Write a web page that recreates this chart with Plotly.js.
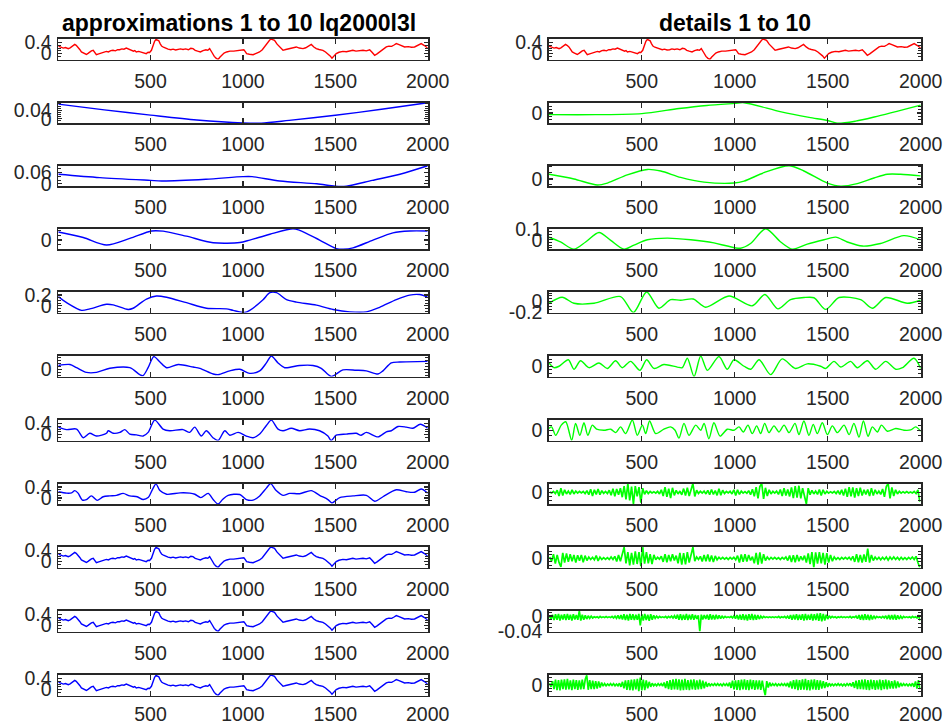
<!DOCTYPE html>
<html><head><meta charset="utf-8">
<script src="https://cdn.plot.ly/plotly-3.0.1.min.js"></script>
<style>html,body{margin:0;padding:0;background:#fff}#chart{width:948px;height:725px}</style>
</head><body><div id="chart"></div>
<script>
// ---------- data ----------
const titleLeft = 'approximations 1 to 10 lq2000l3l';
const titleRight = 'details 1 to 10';
const xTickVals = [500, 1000, 1500, 2000];
const xTickText = ['500', '1000', '1500', '2000'];

// original signal (also shown as a1, a2, a3 which are visually identical)
const sigX = [1,12,28,40,55,65,73,82,90,98,
108,117,126,138,153,162,171,180,190,198,
207,220,234,248,261,272,285,297,310,322,
333,345,356,369,382,396,408,415,423,436,
450,463,477,487,495,505,515,522,530,537,
545,552,560,570,580,595,610,622,636,650,
662,676,690,705,718,730,742,755,770,784,
800,810,820,832,845,856,866,875,885,898,
912,930,950,965,985,1005,1012,1020,1035,1055,
1072,1090,1105,1117,1127,1135,1145,1153,1162,1171,
1185,1199,1210,1217,1232,1253,1268,1289,1305,1325,
1340,1355,1370,1384,1397,1412,1433,1447,1460,1472,
1482,1492,1505,1520,1541,1560,1577,1595,1612,1630,
1650,1668,1686,1700,1713,1726,1740,1758,1776,1790,
1805,1818,1830,1845,1860,1875,1895,1912,1929,1945,
1965,1980,1990,2000];
const sigY = [0.27,0.24,0.20,0.22,0.18,0.21,0.24,0.29,0.33,0.30,
0.24,0.15,0.06,0.02,-0.03,0.01,0.06,0.10,0.12,0.05,
-0.04,-0.01,0.02,0.06,0.08,0.06,0.11,0.12,0.10,0.14,
0.14,0.17,0.16,0.20,0.16,0.12,0.09,0.11,0.06,0.08,
0.06,0.03,0.00,0.05,0.04,0.12,0.36,0.44,0.51,0.48,
0.46,0.36,0.27,0.23,0.20,0.16,0.14,0.16,0.13,0.14,
0.17,0.15,0.17,0.14,0.19,0.18,0.12,0.09,0.06,0.11,
0.14,0.12,0.18,0.05,-0.10,-0.17,-0.21,-0.13,-0.06,0.02,
0.06,0.09,0.09,0.11,0.12,0.14,0.08,0.00,-0.02,-0.04,
0.01,0.06,0.14,0.24,0.34,0.42,0.49,0.52,0.50,0.48,
0.34,0.24,0.16,0.12,0.15,0.18,0.22,0.24,0.20,0.18,
0.21,0.26,0.33,0.24,0.18,0.15,0.12,0.06,0.00,-0.08,
-0.16,-0.08,0.00,0.05,0.08,0.07,0.10,0.12,0.09,0.11,
0.12,0.10,0.14,0.04,-0.06,-0.01,0.06,0.15,0.24,0.27,
0.26,0.31,0.36,0.32,0.28,0.24,0.25,0.23,0.24,0.30,
0.36,0.30,0.26,0.20];

// approximations
const a4X = [1,46,73,90,108,131,153,180,211,244,280,316,352,388,428,460,487,515,530,551,587,660,713,740,772,812,839,866,890,920,983,1019,1055,1091,1127,1150,1180,1217,1253,1307,1370,1415,1460,1482,1524,1596,1668,1713,1758,1830,1884,1929,1965,2000];
const a4Y = [0.23,0.18,0.19,0.27,0.18,-0.07,-0.05,0.08,-0.08,0.05,0.08,0.10,0.17,0.08,0.05,-0.05,0.02,0.37,0.51,0.27,0.14,0.19,0.18,0.14,0.02,0.17,-0.05,-0.21,-0.05,0.10,0.13,-0.05,-0.07,0.08,0.36,0.52,0.27,0.10,0.17,0.16,0.27,0.10,-0.05,-0.17,0.02,0.08,0.10,-0.11,0.05,0.30,0.23,0.21,0.33,0.18];
const a5X = [1,46,100,136,171,207,262,271,298,334,361,388,424,460,487,523,568,604,676,712,739,775,802,838,866,902,929,974,1019,1055,1091,1127,1154,1190,1217,1262,1307,1361,1415,1460,1478,1505,1559,1613,1640,1668,1731,1776,1803,1839,1884,1920,1960,2000];
const a5Y = [0.27,0.18,0.20,-0.11,0.05,-0.05,0.05,0.14,0.05,0.08,0.18,0.02,-0.01,-0.05,0.08,0.52,0.20,0.14,0.18,0.08,0.27,-0.05,0.14,-0.11,-0.21,0.14,-0.02,0.08,-0.05,-0.11,0.02,0.33,0.52,0.20,0.14,0.23,0.14,0.20,0.14,-0.05,-0.21,-0.02,0.02,0.05,-0.02,0.08,-0.08,0.10,0.14,0.29,0.27,0.23,0.37,0.23];
const a6X = [1,64,100,153,208,280,388,442,460,487,518,551,587,650,731,767,839,866,929,983,1037,1091,1127,1154,1190,1226,1307,1379,1424,1478,1541,1613,1668,1731,1758,1803,1848,2000];
const a6Y = [0.063,0.079,0.026,-0.052,-0.052,0.016,0.026,-0.089,-0.104,0.026,0.21,0.12,0.026,0.079,0.037,0.016,-0.079,-0.089,-0.026,0,-0.068,-0.026,0.105,0.22,0.105,0.026,0.063,0.063,0.016,-0.12,-0.011,-0.016,-0.026,-0.079,-0.026,0.105,0.12,0.131];
const a7X = [1,46,127,172,262,298,379,406,478,532,587,695,803,911,947,1010,1037,1109,1146,1182,1236,1290,1398,1488,1578,1668,1740,1830,1902,1956,2000];
const a7Y = [0.172,0.057,-0.087,-0.058,0.027,0.017,-0.07,-0.047,0.126,0.183,0.16,0.057,-0.047,-0.058,-0.087,-0.127,-0.087,0.114,0.245,0.245,0.114,0.068,0.011,-0.07,-0.115,-0.115,-0.029,0.114,0.2,0.21,0.16];
const a8X = [1,136,262,388,506,568,694,839,983,1037,1146,1271,1307,1415,1506,1542,1596,1704,1812,1902,2000];
const a8Y = [0.089,0.028,-0.054,0.018,0.1,0.098,0.043,-0.029,-0.027,0,0.064,0.125,0.107,0,-0.093,-0.1,-0.086,0,0.079,0.1,0.1];
const a9X = [1,226,500,560,800,1000,1050,1200,1400,1500,1560,1700,1850,2000];
const a9Y = [0.051,0.033,0.018,0.015,0.024,0.038,0.038,0.015,0.0,-0.0128,-0.0125,0.018,0.051,0.096];
const a10X = [1,250,500,750,1000,1100,1250,1500,1750,2000];
const a10Y = [0.069,0.042,0.017,-0.006,-0.020,-0.021,-0.008,0.016,0.045,0.076];

// details (smooth levels)
const d10X = [1,250,500,700,850,1000,1050,1250,1400,1500,1550,1650,1750,2000];
const d10Y = [-0.005,-0.005,-0.002,0.013,0.022,0.028,0.030,0.003,-0.013,-0.022,-0.030,-0.024,-0.012,0.023];
const d9X = [1,135,261,315,422,530,602,709,835,996,1050,1157,1292,1372,1498,1570,1659,1749,1820,1892,2000];
const d9Y = [0.039,0,-0.05,-0.034,0.034,0.079,0.066,0.013,-0.026,-0.034,-0.018,0.052,0.11,0.066,-0.034,-0.06,-0.039,0.008,0.039,0.039,0.026];
const d8X = [1,63,135,198,270,333,404,458,530,637,763,888,960,1031,1085,1166,1247,1310,1390,1480,1543,1605,1686,1784,1909,2000];
const d8Y = [0.025,-0.021,-0.09,-0.021,0.07,-0.006,-0.09,-0.051,0,0.016,0,-0.03,-0.06,-0.081,-0.036,0.106,-0.021,-0.09,-0.042,0,0.025,-0.021,-0.06,-0.036,0.04,0];
const d7X = [1,72,135,243,386,455,526,592,655,709,777,843,969,1094,1162,1232,1300,1372,1426,1489,1561,1677,1740,1812,1928,2000];
const d7Y = [-0.039,0.075,-0.039,-0.039,0.087,-0.212,0.173,-0.131,0.029,0.018,0.041,-0.114,0.098,-0.086,0.127,-0.143,0.029,0.069,0.065,-0.154,0.069,0.029,-0.131,0.069,-0.039,0.018];
const d6X = [1,28,55,105,135,171,216,270,315,359,395,440,490,526,566,619,691,718,745,781,817,853,915,960,996,1050,1086,1131,1193,1255,1327,1390,1462,1489,1534,1570,1623,1659,1713,1758,1812,1866,1902,1964,2000];
const d6Y = [0.048,-0.021,0,0.095,-0.044,0.081,-0.021,0.048,-0.032,0.081,-0.021,0.072,-0.06,0.095,-0.032,0.026,-0.012,-0.021,0.118,-0.15,0.15,-0.06,0.141,-0.044,0.095,0,-0.044,0.095,-0.123,0.108,-0.032,0.035,0,-0.032,0.072,-0.012,0.072,-0.021,0.081,-0.044,0.072,-0.044,-0.021,0.118,-0.032];
const d5X = [1,15,37,67,91,123,144,167,189,210,234,257,297,333,360,386,413,449,476,503,521,542,575,619,655,679,700,727,754,790,817,835,861,888,921,960,996,1023,1046,1071,1094,1118,1139,1161,1184,1211,1238,1265,1292,1324,1345,1372,1399,1422,1444,1471,1498,1525,1552,1588,1615,1641,1668,1692,1717,1740,1767,1789,1821,1866,1910,1946,1973,2000];
const d5Y = [0.017,0.033,-0.05,0.05,0.083,-0.097,0.067,-0.05,0.073,-0.05,0.05,0.01,0,0.01,-0.023,0.033,-0.033,0.1,-0.05,0.05,-0.033,0.09,-0.033,0.01,0.033,0,-0.077,0.067,-0.05,0.05,0,0.067,-0.083,0.073,-0.057,0.01,0,0.033,-0.017,0.05,-0.033,0.043,-0.033,0.067,-0.023,0.043,-0.017,0.05,-0.023,0.067,-0.043,0.09,-0.05,0.057,-0.033,0.073,-0.043,0.043,-0.023,0.05,-0.043,0.067,-0.067,0.09,-0.06,0.033,-0.017,0.05,-0.01,0.017,0,0.003,0.033,-0.01];

// details (fine levels), evenly sampled
const d4Y = [0.002,-0.003,0.004,-0.006,0.010,-0.018,0.020,-0.016,0.012,-0.008,
0.006,-0.010,0.012,-0.008,0.006,-0.004,0.005,-0.003,0.004,-0.006,
0.008,-0.012,0.015,-0.018,0.012,-0.010,0.016,-0.012,0.008,-0.005,
0.004,-0.006,0.010,-0.014,0.018,-0.020,0.016,-0.012,0.020,-0.024,
0.030,-0.035,0.043,-0.040,0.028,-0.057,0.030,-0.020,0.025,-0.050,
0.020,-0.010,0.008,-0.006,0.004,-0.003,0.003,-0.004,0.005,-0.008,
0.012,-0.018,0.025,-0.022,0.018,-0.028,0.022,-0.015,0.010,-0.008,
0.006,-0.012,0.018,-0.016,0.022,-0.018,0.012,0.043,-0.020,0.010,
-0.006,0.005,-0.004,0.006,-0.008,0.010,-0.012,0.014,-0.010,0.008,
-0.015,0.018,-0.014,0.010,-0.006,0.004,-0.003,0.005,-0.008,0.012,
-0.015,0.012,-0.010,0.006,-0.004,0.003,-0.005,0.008,-0.012,0.015,
-0.020,0.025,-0.030,0.028,0.043,-0.032,0.022,-0.018,0.012,-0.008,
0.005,-0.004,0.006,-0.010,0.014,-0.018,0.020,-0.016,0.014,-0.020,
0.024,-0.028,0.030,-0.026,0.032,-0.030,0.020,-0.025,-0.057,0.020,
-0.012,0.010,-0.008,0.006,-0.010,0.014,-0.016,0.012,-0.008,0.005,
-0.004,0.003,-0.003,0.004,-0.006,0.008,-0.010,0.012,-0.016,0.018,
-0.022,0.025,-0.020,0.024,-0.026,0.020,-0.018,0.022,-0.016,0.012,
-0.010,0.014,-0.018,0.020,-0.016,0.012,-0.008,0.006,-0.010,0.016,
-0.022,0.028,0.043,-0.030,0.024,-0.018,0.012,-0.008,0.005,-0.004,
0.003,-0.003,0.004,-0.003,0.002,-0.003,0.004,-0.006,0.012,-0.045];
const d3Y = [0.004,-0.008,0.012,-0.015,0.010,-0.012,-0.024,0.016,-0.012,0.014,
-0.010,0.012,-0.008,0.010,-0.012,0.009,-0.007,0.010,-0.011,0.008,
-0.006,0.004,-0.003,0.003,-0.004,0.008,-0.007,0.004,-0.003,0.002,
-0.003,0.002,-0.003,0.004,-0.003,0.006,-0.009,0.010,-0.008,0.011,
0.032,-0.014,0.018,-0.020,0.016,-0.018,0.020,-0.016,0.018,-0.022,
0.032,-0.015,0.018,-0.014,0.012,-0.016,0.010,-0.004,0.003,-0.002,
0.006,-0.010,0.012,-0.011,0.010,-0.008,0.012,-0.006,0.008,-0.014,
0.016,-0.018,0.015,-0.017,0.018,-0.012,0.014,0.032,-0.008,0.004,
-0.003,0.006,-0.009,0.010,-0.008,0.011,-0.009,0.008,-0.010,0.007,
-0.004,0.003,-0.002,0.003,-0.002,0.002,-0.003,0.003,-0.002,0.003,
-0.004,0.008,-0.012,0.011,-0.010,0.012,-0.009,0.010,-0.006,0.005,
-0.014,0.016,-0.018,0.017,-0.015,0.012,-0.006,0.004,-0.003,0.003,
-0.002,0.003,-0.002,0.002,-0.003,0.003,-0.002,0.004,-0.006,0.008,
-0.010,0.009,-0.011,0.010,-0.008,0.006,-0.005,0.008,-0.012,0.014,
-0.016,0.018,-0.026,0.017,-0.015,0.018,-0.014,0.016,-0.018,0.015,
-0.012,0.010,-0.008,0.004,-0.003,0.002,-0.003,0.003,-0.002,0.003,
-0.002,0.003,-0.004,0.006,-0.010,0.012,-0.011,0.010,-0.012,0.011,
-0.010,0.028,-0.012,0.010,-0.006,0.004,-0.003,0.003,-0.004,0.003,
-0.003,0.004,-0.005,0.004,-0.003,0.004,-0.003,0.003,-0.004,0.003,
-0.003,0.002,-0.003,0.003,-0.002,0.004,-0.003,0.006,-0.012,-0.026];
const d2Y = [-0.001,-0.008,0.004,-0.011,0.005,-0.010,0.006,-0.012,0.004,-0.009,
0.005,-0.011,0.006,-0.010,0.004,-0.012,0.005,-0.009,0.003,-0.010,
0.014,-0.012,0.004,-0.010,0.002,-0.008,0.001,-0.006,0.000,-0.005,
-0.002,-0.004,-0.002,-0.005,-0.001,-0.004,-0.002,-0.004,-0.001,-0.004,
-0.002,-0.004,-0.001,-0.005,0.000,-0.006,0.002,-0.008,0.003,-0.009,
0.005,-0.011,0.004,-0.012,0.006,-0.010,0.005,-0.011,0.004,-0.010,
0.006,-0.025,0.005,-0.012,0.006,-0.011,0.004,-0.013,0.005,-0.010,
0.002,-0.006,0.000,-0.005,-0.001,-0.004,-0.002,-0.004,-0.001,-0.005,
-0.001,-0.004,0.000,-0.005,0.001,-0.007,0.004,-0.010,0.005,-0.011,
0.004,-0.010,0.006,-0.011,0.004,-0.009,0.005,-0.010,0.003,-0.008,
0.002,-0.042,0.004,-0.009,0.003,-0.008,0.004,-0.010,0.005,-0.009,
0.003,-0.009,0.004,-0.008,0.002,-0.007,0.000,-0.005,-0.001,-0.004,
-0.002,-0.004,-0.001,-0.005,0.001,-0.007,0.003,-0.009,0.004,-0.010,
0.005,-0.011,0.004,-0.012,0.005,-0.010,0.006,-0.011,0.004,-0.010,
0.003,-0.008,0.000,-0.005,-0.001,-0.004,-0.002,-0.004,-0.002,-0.004,
-0.002,-0.004,-0.002,-0.004,-0.001,-0.005,-0.002,-0.004,-0.001,-0.005,
0.000,-0.007,0.003,-0.010,0.004,-0.009,0.005,-0.011,0.004,-0.010,
0.005,-0.012,0.006,-0.011,0.004,-0.010,0.006,-0.012,0.005,-0.011,
0.007,-0.013,0.008,-0.014,0.006,-0.012,0.004,-0.008,0.001,-0.005,
-0.001,-0.004,-0.002,-0.005,-0.002,-0.004,-0.001,-0.004,-0.002,-0.004,
-0.002,-0.004,-0.001,-0.005,-0.002,-0.004,0.000,-0.007,0.003,-0.010,
0.004,-0.011,0.005,-0.010,0.004,-0.011,0.003,-0.009,0.001,-0.006,
-0.001,-0.004,-0.002,-0.005,-0.001,-0.005,0.001,-0.008,0.003,-0.009,
0.003,-0.009,0.004,-0.010,0.002,-0.008,0.000,-0.006,-0.001,-0.004,
-0.002,-0.004,-0.002,-0.005,-0.001,-0.004,-0.002,-0.005,0.003,-0.012];
const d1Y = [0.004,-0.006,0.010,-0.012,0.014,-0.015,0.013,-0.016,0.014,-0.012,
0.015,-0.014,0.016,-0.013,0.012,-0.015,0.014,-0.012,0.013,-0.014,
0.012,-0.013,0.014,-0.012,0.015,0.026,-0.014,0.013,-0.012,0.011,
-0.012,0.010,-0.011,0.009,-0.008,0.006,-0.004,0.003,-0.003,0.002,
-0.002,0.003,-0.002,0.003,-0.003,0.002,-0.003,0.004,-0.006,0.008,
-0.010,0.012,-0.014,0.013,-0.015,0.014,-0.016,0.015,-0.013,0.016,
-0.018,0.020,-0.016,0.014,-0.015,0.012,-0.010,0.008,-0.006,0.004,
-0.003,0.002,-0.003,0.003,-0.002,0.003,-0.004,0.006,-0.009,0.010,
-0.012,0.013,-0.014,0.015,-0.013,0.016,-0.014,0.015,-0.016,0.014,
-0.015,0.016,-0.014,0.013,-0.015,0.014,-0.013,0.015,-0.014,0.012,
-0.013,0.014,-0.012,0.011,-0.010,0.008,-0.006,0.004,-0.003,0.002,
-0.002,0.003,-0.002,0.003,-0.002,0.002,-0.003,0.003,-0.002,0.003,
-0.004,0.006,-0.009,0.011,-0.013,0.012,-0.014,0.013,-0.015,0.014,
-0.013,0.015,-0.014,0.013,-0.015,0.014,-0.012,0.013,-0.014,0.012,
-0.013,0.012,-0.014,0.011,-0.012,-0.030,0.010,-0.008,0.006,-0.004,
0.003,-0.002,0.003,-0.003,0.002,-0.002,0.003,-0.002,0.003,-0.004,
0.005,-0.007,0.009,-0.011,0.013,-0.012,0.014,-0.015,0.013,-0.014,
0.015,-0.014,0.016,-0.015,0.013,-0.016,0.014,-0.013,0.015,-0.014,
0.013,-0.014,0.012,-0.011,0.010,-0.009,0.007,-0.006,0.004,-0.003,
0.002,-0.003,0.002,-0.002,0.003,-0.002,0.002,-0.003,0.002,-0.003,
0.003,-0.002,0.004,-0.005,0.007,-0.009,0.011,-0.012,0.013,-0.012,
0.014,-0.013,0.015,-0.014,0.013,-0.015,0.014,-0.012,0.013,-0.014,
0.012,-0.013,0.014,-0.015,0.013,-0.012,0.014,-0.013,0.012,-0.011,
0.010,-0.011,0.012,-0.010,0.009,-0.007,0.005,-0.004,0.003,-0.002,
0.002,-0.003,0.002,-0.003,0.004,-0.006,0.009,-0.011,0.013,-0.012];

// ---------- layout helpers ----------
const RED = 'rgb(255,0,0)', BLUE = 'rgb(0,0,255)', GREEN = 'rgb(0,255,0)';
const W = 948, H = 725;
const colPx = [[58.3, 427.7], [549, 920.7]];
const rowTop = [39, 102.7, 165.7, 228.7, 292, 356, 420, 483.5, 547, 611, 675];
const boxH = 20.5;
const sigRange = [-0.21, 0.525];

function even(y, x0, dx) { return {y: y, x0: x0, dx: dx}; }
function pts(x, y) { return {x: x, y: y}; }

const panels = [
  // left column
  {c:0, r:0, d:pts(sigX,sigY), col:RED, rng:sigRange, tv:[0,0.4], tt:['0','0.4'], mn:0.1},
  {c:0, r:1, d:pts(a10X,a10Y), col:BLUE, rng:[-0.0215,0.076], tv:[0,0.04], tt:['0','0.04'], mn:0.01, sm:true},
  {c:0, r:2, d:pts(a9X,a9Y), col:BLUE, rng:[-0.0128,0.0963], tv:[0,0.06], tt:['0','0.06'], mn:0.02, sm:true},
  {c:0, r:3, d:pts(a8X,a8Y), col:BLUE, rng:[-0.1,0.125], tv:[0], tt:['0'], mn:0.05, sm:true},
  {c:0, r:4, d:pts(a7X,a7Y), col:BLUE, rng:[-0.127,0.258], tv:[0,0.2], tt:['0','0.2'], mn:0.05, sm:true},
  {c:0, r:5, d:pts(a6X,a6Y), col:BLUE, rng:[-0.12,0.22], tv:[0], tt:['0'], mn:0.05, sm:true},
  {c:0, r:6, d:pts(a5X,a5Y), col:BLUE, rng:sigRange, tv:[0,0.4], tt:['0','0.4'], mn:0.1, sm:true},
  {c:0, r:7, d:pts(a4X,a4Y), col:BLUE, rng:sigRange, tv:[0,0.4], tt:['0','0.4'], mn:0.1, sm:true},
  {c:0, r:8, d:pts(sigX,sigY), col:BLUE, rng:sigRange, tv:[0,0.4], tt:['0','0.4'], mn:0.1},
  {c:0, r:9, d:pts(sigX,sigY), col:BLUE, rng:sigRange, tv:[0,0.4], tt:['0','0.4'], mn:0.1},
  {c:0, r:10, d:pts(sigX,sigY), col:BLUE, rng:sigRange, tv:[0,0.4], tt:['0','0.4'], mn:0.1},
  // right column
  {c:1, r:0, d:pts(sigX,sigY), col:RED, rng:sigRange, tv:[0,0.4], tt:['0','0.4'], mn:0.1},
  {c:1, r:1, d:pts(d10X,d10Y), col:GREEN, rng:[-0.03,0.03], tv:[0], tt:['0'], mn:0.01, sm:true},
  {c:1, r:2, d:pts(d9X,d9Y), col:GREEN, rng:[-0.06,0.11], tv:[0], tt:['0'], mn:0.05, sm:true},
  {c:1, r:3, d:pts(d8X,d8Y), col:GREEN, rng:[-0.09,0.106], tv:[0,0.1], tt:['0','0.1'], mn:0.025, sm:true},
  {c:1, r:4, d:pts(d7X,d7Y), col:GREEN, rng:[-0.212,0.173], tv:[-0.2,0], tt:['-0.2','0'], mn:0.05, sm:true},
  {c:1, r:5, d:pts(d6X,d6Y), col:GREEN, rng:[-0.15,0.15], tv:[0], tt:['0'], mn:0.05, sm:true},
  {c:1, r:6, d:pts(d5X,d5Y), col:GREEN, rng:[-0.1,0.1], tv:[0], tt:['0'], mn:0.05, sm:true},
  {c:1, r:7, d:even(d4Y,5,10), col:GREEN, rng:[-0.057,0.043], tv:[0], tt:['0'], mn:0.02, dense:true},
  {c:1, r:8, d:even(d3Y,5,10), col:GREEN, rng:[-0.026,0.0326], tv:[0], tt:['0'], mn:0.01, dense:true},
  {c:1, r:9, d:even(d2Y,4,8), col:GREEN, rng:[-0.042,0.014], tv:[-0.04,0], tt:['-0.04','0'], mn:0.01, dense:true},
  {c:1, r:10, d:even(d1Y,4,8), col:GREEN, rng:[-0.03,0.027], tv:[0], tt:['0'], mn:0.01, dense:true}
];

const AX = '#262626';
const tickFont = {family: 'Liberation Sans, Arial, Helvetica, sans-serif', size: 19.5, color: AX};
const traces = [];
const layout = {
  width: W, height: H, margin: {l:0, r:0, t:0, b:0}, autosize: false,
  showlegend: false, paper_bgcolor: '#ffffff', plot_bgcolor: '#ffffff',
  annotations: []
};

panels.forEach((p, i) => {
  const n = i + 1;
  const xs = n === 1 ? '' : String(n);
  const t = Object.assign({type: 'scatter', mode: 'lines', xaxis: 'x' + xs, yaxis: 'y' + xs,
    hoverinfo: 'skip',
    line: {color: p.col, width: p.dense ? 1.7 : 1.4, shape: p.sm ? 'spline' : 'linear', smoothing: 0.8}}, p.d);
  traces.push(t);
  const top = rowTop[p.r];
  const xd = [colPx[p.c][0] / W, colPx[p.c][1] / W];
  const yd = [1 - (top + boxH) / H, 1 - top / H];
  const common = {
    showline: true, linecolor: AX, linewidth: 1.8, mirror: 'ticks',
    ticks: 'inside', tickcolor: AX, tickwidth: 1.3, showgrid: false, zeroline: false,
    tickfont: tickFont, fixedrange: true, tickmode: 'array'
  };
  layout['xaxis' + xs] = Object.assign({}, common, {
    domain: xd, anchor: 'y' + xs, range: [1, 2000],
    tickvals: xTickVals, ticktext: xTickText, ticklen: 5,
    ticklabelstandoff: p.r === 10 ? 0 : 3
  });
  layout['yaxis' + xs] = Object.assign({}, common, {
    domain: yd, anchor: 'x' + xs, range: p.rng,
    tickvals: p.tv, ticktext: p.tt, ticklen: 4, ticklabelstandoff: 1,
    minor: {ticks: 'inside', ticklen: 2.5, tickmode: 'linear', tick0: 0, dtick: p.mn, tickcolor: AX, tickwidth: 1}
  });
});

const titleFont = {family: 'Liberation Sans, Arial, Helvetica, sans-serif', size: 23, color: '#000000'};
const titleCenters = [239, 734.5];
[[titleLeft, 0], [titleRight, 1]].forEach(([txt, c]) => {
  layout.annotations.push({
    text: '<b>' + txt + '</b>', xref: 'paper', yref: 'paper',
    x: titleCenters[c] / W, y: 1 - 23 / H,
    xanchor: 'center', yanchor: 'middle', showarrow: false, font: titleFont
  });
});

Plotly.newPlot('chart', traces, layout, {staticPlot: true, displayModeBar: false});
</script>
</body></html>
